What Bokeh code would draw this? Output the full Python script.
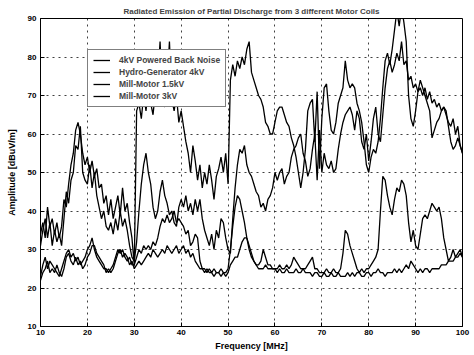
import numpy as np
from bokeh.plotting import figure
from bokeh.models import Range1d, Legend, LegendItem, FixedTicker
from bokeh.embed import file_html
from bokeh.resources import INLINE

# Frequency grid in MHz (0.5 MHz steps, 10 .. 100)
freq = np.arange(10.0, 100.01, 0.5)

x_ticks = [10, 20, 30, 40, 50, 60, 70, 80, 90, 100]
y_ticks = [10, 20, 30, 40, 50, 60, 70, 80, 90]

title_text = "Radiated Emission of Partial Discharge from 3 different Motor Coils"
series_names = ["4kV Powered Back Noise", "Hydro-Generator 4kV", "Mill-Motor 1.5kV", "Mill-Motor 3kV"]

# Amplitudes [dBuV/m] at 0.5 MHz steps
back_noise = [
    22, 24, 25, 27, 24, 25, 24, 26, 24, 23,
    25, 28, 29, 27, 26, 28, 26, 27, 25, 26,
    28, 29, 31, 31, 29, 28, 27, 26, 24, 25,
    24, 25, 27, 29, 30, 28, 29, 28, 26, 27,
    25, 26, 27, 26, 27, 28, 29, 28, 30, 29,
    28, 29, 30, 29, 31, 30, 29, 30, 31, 29,
    30, 31, 29, 30, 28, 29, 27, 26, 25, 25,
    24, 25, 24, 24, 23, 24, 24, 23, 24, 23,
    24, 26, 27, 28, 28, 30, 32, 33, 33, 31,
    29, 27, 26, 25, 25, 25, 26, 25, 25, 25,
    25, 24, 25, 24, 24, 25, 24, 24, 24, 25,
    24, 24, 25, 24, 24, 24, 23, 24, 24, 23,
    23, 24, 23, 23, 24, 23, 23, 24, 23, 23,
    23, 24, 23, 24, 23, 24, 24, 23, 23, 24,
    24, 23, 24, 24, 25, 24, 24, 23, 24, 24,
    24, 25, 24, 25, 24, 25, 26, 25, 27, 26,
    25, 24, 25, 24, 25, 25, 24, 25, 25, 25,
    25, 26, 26, 26, 27, 27, 27, 28, 28, 29,
    28,
]

hydro_4kv = [
    34, 37, 33, 41, 36, 38, 34, 37, 33, 36,
    43, 41, 47, 52, 55, 61, 63, 60, 55, 52,
    54, 50, 53, 49, 51, 46, 47, 42, 44, 39,
    43, 38, 41, 44, 39, 46, 40, 42, 37, 33,
    26, 66, 68, 64, 70, 66, 72, 68, 65, 71,
    74, 84, 70, 67, 73, 84, 69, 66, 70, 63,
    66, 62, 58, 55, 50, 57, 53, 48, 52, 46,
    50, 47, 52, 48, 43, 49, 51, 54, 50, 55,
    47, 74, 78, 75, 79, 77, 80, 78, 82, 84,
    76, 74, 72, 70, 69, 67, 63, 62, 60, 60,
    63, 66, 67, 67, 65, 63, 62, 59, 57, 54,
    50, 46, 50, 56, 66, 68, 69, 58, 71, 51,
    64, 72, 73, 66, 61, 60, 63, 68, 70, 72,
    79, 74, 72, 73, 72, 68, 66, 63, 58, 52,
    50, 54, 56, 55, 58, 64, 72, 79, 81, 78,
    82, 87, 92, 88, 93, 89, 84, 70, 64, 62,
    66, 71, 74, 72, 70, 68, 66, 59, 61, 63,
    64, 66, 67, 66, 62, 58, 56, 57, 59, 57,
    55,
]

mill_15kv = [
    23, 26, 28, 25, 27, 26, 25, 24, 23, 25,
    27, 29, 30, 28, 29, 27, 28, 26, 27, 28,
    30, 31, 33, 30, 28, 27, 26, 25, 25, 24,
    25, 26, 28, 30, 29, 30, 28, 27, 28, 26,
    26, 28, 30, 29, 31, 30, 31, 30, 32, 31,
    33, 36, 38, 37, 39, 37, 38, 40, 37, 38,
    37, 36, 34, 35, 31, 32, 34, 33, 27, 25,
    25, 24, 25, 24, 25, 24, 24, 25, 24, 24,
    25, 30, 36, 41, 44, 43, 40, 37, 33, 30,
    28, 27, 26, 26, 27, 30, 28, 26, 26, 25,
    25, 25, 26, 25, 25, 26, 25, 26, 28, 27,
    26, 25, 25, 25, 26, 27, 28, 25, 25, 24,
    24, 24, 25, 24, 24, 25, 24, 24, 25, 29,
    35, 34, 31, 29, 27, 25, 24, 25, 24, 25,
    25, 26, 27, 28, 30, 40, 49, 48, 44, 41,
    39, 43, 46, 45, 48, 47, 44, 37, 32, 35,
    31, 30, 34, 38, 39, 38, 40, 42, 41, 40,
    41, 38, 33, 30, 27, 28, 30, 28, 29, 30,
    28,
]

mill_3kv = [
    31, 35, 38, 33, 37, 31, 35, 32, 34, 31,
    38, 45, 42, 48, 50, 57, 56, 62, 50, 48,
    47, 52, 46, 50, 44, 41, 38, 40, 36, 35,
    37, 34, 38, 35, 40, 36, 38, 35, 31, 28,
    27, 32, 40, 47, 52, 55, 50, 47, 41, 38,
    40, 45, 48, 44, 42, 39, 40, 37, 36, 41,
    43, 41, 44, 40, 42, 39, 43, 40, 43, 38,
    35, 33, 31, 34, 30, 35, 33, 38, 37, 33,
    30, 29, 38, 46, 52, 56, 55, 57, 52, 50,
    49, 47, 45, 44, 41, 42, 40, 43, 44, 46,
    50, 48, 50, 51, 47, 49, 50, 54, 56, 57,
    59, 60, 55, 53, 49, 51, 56, 60, 48, 61,
    50, 55, 52, 51, 53, 50, 51, 56, 60, 63,
    65, 66, 67, 65, 61, 66, 64, 58, 56, 60,
    53, 58, 64, 67, 60, 58, 65, 72, 77, 79,
    76, 78, 81, 79, 84, 78, 79, 74, 75, 72,
    73, 71, 72, 70, 72, 69, 71, 68, 69, 67,
    68, 66, 67, 65, 63, 62, 64, 60, 62, 57,
    55,
]

FONT = "Liberation Sans"

p = figure(width=474, height=355, output_backend="svg", toolbar_location=None,
           x_range=Range1d(10, 100), y_range=Range1d(10, 90),
           min_border_left=40, min_border_right=12, min_border_top=18,
           min_border_bottom=29)
p.background_fill_color = "white"
p.border_fill_color = "white"
p.outline_line_color = "black"
p.outline_line_width = 1

p.title.text = title_text
p.title.align = "center"
p.title.text_font = FONT
p.title.text_font_size = "8px"
p.title.text_font_style = "bold"
p.title.standoff = 6

p.xaxis.ticker = FixedTicker(ticks=x_ticks)
p.yaxis.ticker = FixedTicker(ticks=y_ticks)
p.xaxis.axis_label = "Frequency [MHz]"
p.yaxis.axis_label = "Amplitude [dBuV/m]"
for ax in (p.xaxis[0], p.yaxis[0]):
    ax.major_tick_in = 4
    ax.major_tick_out = 0
    ax.minor_tick_line_color = None
    ax.axis_line_color = "black"
    ax.major_tick_line_color = "black"
    ax.major_label_text_font = FONT
    ax.major_label_text_font_size = "8px"
    ax.major_label_text_font_style = "bold"
    ax.major_label_text_color = "black"
    ax.axis_label_text_font = FONT
    ax.axis_label_text_font_size = "9px"
    ax.axis_label_text_font_style = "bold"
    ax.axis_label_text_color = "black"
p.xaxis.major_label_standoff = 3
p.xaxis.axis_label_standoff = 3
p.yaxis.major_label_standoff = 4
p.yaxis.axis_label_standoff = 8

for g in (p.xgrid[0], p.ygrid[0]):
    g.grid_line_color = "black"
    g.grid_line_dash = "2 4"
    g.grid_line_alpha = 0.75
    g.grid_line_width = 1

data = [back_noise, hydro_4kv, mill_15kv, mill_3kv]
renderers = []
for vals in data:
    r = p.line(freq, vals, line_color="black", line_width=1.3)
    renderers.append(r)

legend = Legend(items=[LegendItem(label=n, renderers=[r]) for n, r in zip(series_names, renderers)],
                location=(47, 219))
legend.border_line_color = "black"
legend.border_line_width = 1
legend.background_fill_color = "white"
legend.background_fill_alpha = 1
legend.label_text_font = FONT
legend.label_text_font_size = "8.5px"
legend.label_text_font_style = "bold"
legend.label_height = 10
legend.glyph_height = 10
legend.glyph_width = 17
legend.label_standoff = 9
legend.spacing = 2
legend.padding = 5
legend.margin = 0
p.add_layout(legend)

open("out.html", "w").write(file_html(p, INLINE))
